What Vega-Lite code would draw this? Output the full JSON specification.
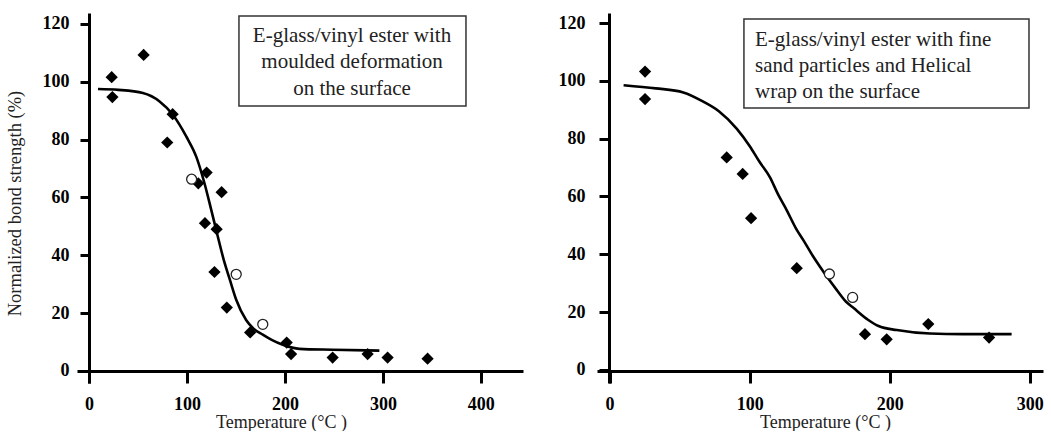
{
  "$schema": "https://vega.github.io/schema/vega-lite/v6.json",
  "background": "white",
  "padding": {"left": 5, "top": 13, "right": 0, "bottom": 0},
  "bounds": "flush",
  "spacing": 74,
  "config": {
    "view": {"stroke": null},
    "font": "Liberation Serif",
    "axis": {
      "grid": false,
      "domainColor": "black",
      "domainWidth": 3,
      "tickColor": "black",
      "tickWidth": 3,
      "labelFont": "Liberation Serif",
      "labelFontWeight": "bold",
      "labelFontSize": 18,
      "labelColor": "black",
      "titleFont": "Liberation Serif",
      "titleFontWeight": "normal",
      "titleFontSize": 18,
      "titleColor": "#222222",
      "labelFlush": false,
      "offset": -12
    }
  },
  "datasets": {
    "leftPts": [
      {"x": 23.2, "y": 101.6, "kind": "filled"},
      {"x": 23.9, "y": 94.7, "kind": "filled"},
      {"x": 55.8, "y": 109.3, "kind": "filled"},
      {"x": 85.4, "y": 88.8, "kind": "filled"},
      {"x": 79.9, "y": 79.0, "kind": "filled"},
      {"x": 120.1, "y": 68.6, "kind": "filled"},
      {"x": 111.6, "y": 64.9, "kind": "filled"},
      {"x": 135.4, "y": 61.8, "kind": "filled"},
      {"x": 118.4, "y": 51.1, "kind": "filled"},
      {"x": 130.3, "y": 49.0, "kind": "filled"},
      {"x": 128.1, "y": 34.2, "kind": "filled"},
      {"x": 140.7, "y": 21.9, "kind": "filled"},
      {"x": 164.5, "y": 13.3, "kind": "filled"},
      {"x": 201.8, "y": 9.8, "kind": "filled"},
      {"x": 206.3, "y": 5.8, "kind": "filled"},
      {"x": 248.7, "y": 4.6, "kind": "filled"},
      {"x": 284.4, "y": 5.8, "kind": "filled"},
      {"x": 304.8, "y": 4.6, "kind": "filled"},
      {"x": 345.6, "y": 4.2, "kind": "filled"},
      {"x": 104.8, "y": 66.3, "kind": "open"},
      {"x": 150.3, "y": 33.4, "kind": "open"},
      {"x": 177.4, "y": 16.1, "kind": "open"}
    ],
    "leftCurve": [
      {"x": 9.2, "y": 97.5}, {"x": 30, "y": 97.2}, {"x": 55, "y": 96.1},
      {"x": 72.1, "y": 93.2}, {"x": 85.6, "y": 88.6}, {"x": 99.3, "y": 81.1},
      {"x": 109.5, "y": 74.1}, {"x": 117.9, "y": 64.9}, {"x": 124.8, "y": 55.7},
      {"x": 131.5, "y": 46.5}, {"x": 138.3, "y": 37.5}, {"x": 143.4, "y": 32.0},
      {"x": 150.3, "y": 24.6}, {"x": 160.4, "y": 17.6}, {"x": 168, "y": 14.6},
      {"x": 177.4, "y": 12.5}, {"x": 187, "y": 10.6}, {"x": 197.8, "y": 9.0},
      {"x": 214.8, "y": 7.6}, {"x": 248.7, "y": 7.3}, {"x": 296.4, "y": 7.0}
    ],
    "rightPts": [
      {"x": 25.3, "y": 103.2, "kind": "filled"},
      {"x": 25.3, "y": 93.7, "kind": "filled"},
      {"x": 83.6, "y": 73.5, "kind": "filled"},
      {"x": 95.0, "y": 67.8, "kind": "filled"},
      {"x": 101.0, "y": 52.5, "kind": "filled"},
      {"x": 133.6, "y": 35.2, "kind": "filled"},
      {"x": 182.3, "y": 12.4, "kind": "filled"},
      {"x": 197.8, "y": 10.6, "kind": "filled"},
      {"x": 227.5, "y": 15.9, "kind": "filled"},
      {"x": 270.9, "y": 11.2, "kind": "filled"},
      {"x": 156.9, "y": 33.2, "kind": "open"},
      {"x": 173.5, "y": 25.1, "kind": "open"}
    ],
    "rightCurve": [
      {"x": 10, "y": 98.5}, {"x": 33, "y": 97.4}, {"x": 52.6, "y": 96.0},
      {"x": 66.9, "y": 92.8}, {"x": 78, "y": 89.5}, {"x": 90.7, "y": 83.5},
      {"x": 100.2, "y": 77.3}, {"x": 107, "y": 72.0}, {"x": 114.5, "y": 66.6},
      {"x": 120, "y": 61.0}, {"x": 126.4, "y": 55.3}, {"x": 133, "y": 49.0},
      {"x": 138.3, "y": 44.9}, {"x": 145, "y": 39.5}, {"x": 150.2, "y": 35.7},
      {"x": 157, "y": 31.0}, {"x": 162.1, "y": 27.7}, {"x": 169, "y": 23.5},
      {"x": 174, "y": 21.5}, {"x": 184.7, "y": 17.3}, {"x": 192, "y": 15.2},
      {"x": 205, "y": 13.8}, {"x": 228.7, "y": 12.6}, {"x": 252, "y": 12.4},
      {"x": 287, "y": 12.4}
    ]
  },
  "hconcat": [
    {
      "width": 446,
      "height": 370,
      "layer": [
        {
          "data": {"name": "leftCurve"},
          "mark": {"type": "line", "color": "black", "strokeWidth": 2.6, "interpolate": "monotone"},
          "encoding": {
            "x": {
              "field": "x", "type": "quantitative",
              "scale": {"domain": [-12.2, 443], "nice": false, "zero": false},
              "axis": {"values": [0, 100, 200, 300, 400], "tickSize": 12, "labelPadding": 12, "labelFont": "Liberation Serif", "labelFontWeight": "bold", "title": "Temperature (°C )", "titlePadding": 0, "titleX": 204}
            },
            "y": {
              "field": "y", "type": "quantitative",
              "scale": {"domain": [-4.2, 123.8], "nice": false, "zero": false},
              "axis": {"values": [0, 20, 40, 60, 80, 100, 120], "tickSize": 9, "labelPadding": 11, "labelFont": "Liberation Serif", "labelFontWeight": "bold", "title": "Normalized bond strength (%)", "titleFontSize": 18.5, "titlePadding": 18, "titleY": 190}
            }
          }
        },
        {
          "data": {"name": "leftPts"},
          "transform": [{"filter": "datum.kind === 'filled'"}],
          "mark": {"type": "point", "shape": "diamond", "filled": true, "color": "black", "size": 150, "opacity": 1},
          "encoding": {
            "x": {"field": "x", "type": "quantitative"},
            "y": {"field": "y", "type": "quantitative"}
          }
        },
        {
          "data": {"name": "leftPts"},
          "transform": [{"filter": "datum.kind === 'open'"}],
          "mark": {"type": "point", "shape": "circle", "filled": false, "stroke": "#222222", "strokeWidth": 1.3, "fill": "white", "fillOpacity": 1, "size": 100, "opacity": 1},
          "encoding": {
            "x": {"field": "x", "type": "quantitative"},
            "y": {"field": "y", "type": "quantitative"}
          }
        },
        {
          "data": {"values": [{}]},
          "mark": {"type": "rect", "fill": "white", "stroke": "#333333", "strokeWidth": 1.5},
          "encoding": {
            "x": {"datum": 153.1, "type": "quantitative"},
            "x2": {"datum": 384.8},
            "y": {"datum": 122.8, "type": "quantitative"},
            "y2": {"datum": 91.6}
          }
        },
        {
          "data": {"values": [{}]},
          "mark": {"type": "text", "text": ["E-glass/vinyl ester with", "moulded deformation", "on the surface"], "font": "Liberation Serif", "fontSize": 21, "lineHeight": 26.5, "align": "center", "baseline": "middle", "color": "#222222"},
          "encoding": {
            "x": {"datum": 268.5, "type": "quantitative"},
            "y": {"datum": 116.0, "type": "quantitative"}
          }
        }
      ]
    },
    {
      "width": 446,
      "height": 370,
      "layer": [
        {
          "data": {"name": "rightCurve"},
          "mark": {"type": "line", "color": "black", "strokeWidth": 2.6, "interpolate": "monotone"},
          "encoding": {
            "x": {
              "field": "x", "type": "quantitative",
              "scale": {"domain": [-9.0, 309.4], "nice": false, "zero": false},
              "axis": {"values": [0, 100, 200, 300], "tickSize": 12, "labelPadding": 12, "labelFont": "Liberation Serif", "labelFontWeight": "bold", "title": "Temperature (°C )", "titlePadding": 0, "titleX": 228}
            },
            "y": {
              "field": "y", "type": "quantitative",
              "scale": {"domain": [-4.5, 123.46], "nice": false, "zero": false},
              "axis": {"values": [0, 20, 40, 60, 80, 100, 120], "tickSize": 10, "labelPadding": 14, "labelFont": "Liberation Serif", "labelFontWeight": "bold", "title": null}
            }
          }
        },
        {
          "data": {"name": "rightPts"},
          "transform": [{"filter": "datum.kind === 'filled'"}],
          "mark": {"type": "point", "shape": "diamond", "filled": true, "color": "black", "size": 150, "opacity": 1},
          "encoding": {
            "x": {"field": "x", "type": "quantitative"},
            "y": {"field": "y", "type": "quantitative"}
          }
        },
        {
          "data": {"name": "rightPts"},
          "transform": [{"filter": "datum.kind === 'open'"}],
          "mark": {"type": "point", "shape": "circle", "filled": false, "stroke": "#222222", "strokeWidth": 1.3, "fill": "white", "fillOpacity": 1, "size": 100, "opacity": 1},
          "encoding": {
            "x": {"field": "x", "type": "quantitative"},
            "y": {"field": "y", "type": "quantitative"}
          }
        },
        {
          "data": {"values": [{}]},
          "mark": {"type": "rect", "fill": "white", "stroke": "#333333", "strokeWidth": 1.5},
          "encoding": {
            "x": {"datum": 95.9, "type": "quantitative"},
            "x2": {"datum": 299.4},
            "y": {"datum": 121.4, "type": "quantitative"},
            "y2": {"datum": 90.6}
          }
        },
        {
          "data": {"values": [{}]},
          "mark": {"type": "text", "text": ["E-glass/vinyl ester with fine", "sand particles and Helical", "wrap on the surface"], "font": "Liberation Serif", "fontSize": 21, "lineHeight": 26, "align": "left", "baseline": "middle", "color": "#222222"},
          "encoding": {
            "x": {"datum": 103.8, "type": "quantitative"},
            "y": {"datum": 114.12, "type": "quantitative"}
          }
        }
      ]
    }
  ]
}
